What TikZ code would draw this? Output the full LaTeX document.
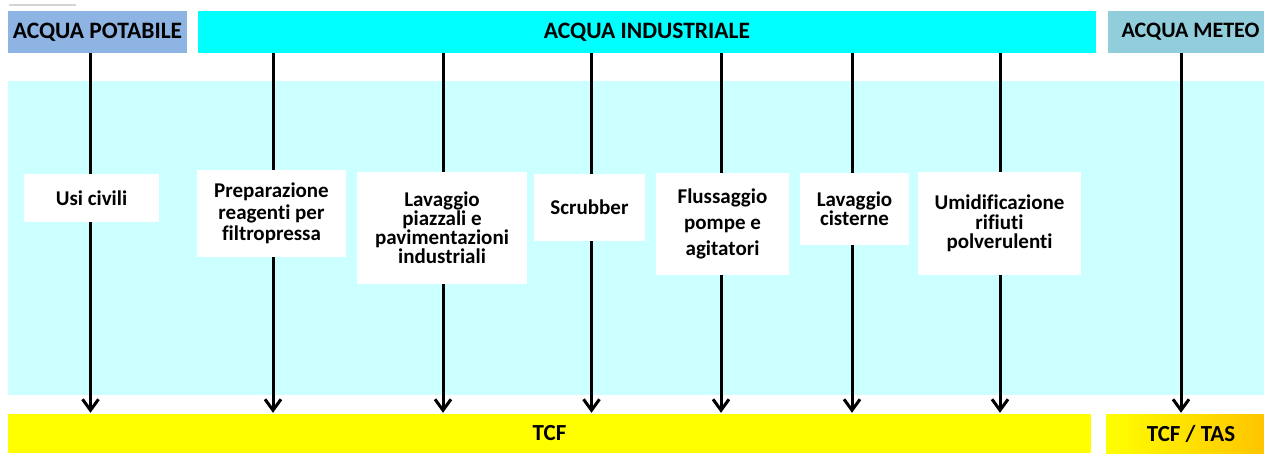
\documentclass[tikz,border=0pt]{standalone}
\usepackage{fontspec}
\setmainfont{Carlito}[Ligatures={NoCommon}]
\usetikzlibrary{arrows.meta,backgrounds}
\definecolor{potabile}{HTML}{8EB4E3}
\definecolor{industriale}{HTML}{00FFFF}
\definecolor{meteo}{HTML}{92CDDC}
\definecolor{lightcyan}{HTML}{CCFFFF}
\definecolor{tcfyellow}{HTML}{FFFF00}
\definecolor{tasorange}{HTML}{FFC000}
\definecolor{rulegray}{HTML}{D4D4D4}
\begin{document}
\begin{tikzpicture}[x=1pt,y=-1pt,
  hdr/.style={font=\bfseries\fontsize{23.5}{25}\selectfont, inner sep=0pt, minimum height=42pt},
  bottombar/.style={font=\bfseries\fontsize{23}{25}\selectfont, inner sep=0pt, minimum height=39pt},
  usebox/.style={fill=white, align=center, inner sep=0pt, font=\bfseries\fontsize{21}{#1}\selectfont},
  flow/.style={line width=3pt, shorten >=1pt, -{Straight Barb[length=11pt,width=16pt,line width=3pt]}}]
\clip (0,0) rectangle (1264,453);
\draw[rulegray, line width=2pt] (9,5) -- (76,5);
% headers
\node[hdr, fill=potabile, minimum width=179pt] (pot) at (97.5,32) {ACQUA POTABILE};
\node[hdr, fill=industriale, minimum width=898pt] (ind) at (647,32) {ACQUA INDUSTRIALE};
\node[hdr, fill=meteo, minimum width=165pt, font=\bfseries\fontsize{22}{25}\selectfont] (met) at (1190.5,32) {ACQUA METEO};
% bottom
\node[bottombar, fill=tcfyellow, minimum width=1083pt] (tcf) at (549.5,433.5) {TCF};
\node[bottombar, left color=tcfyellow, right color=tasorange, minimum width=170pt] (tas) at (1191,433.5) {TCF / TAS};
% boxes
\node[usebox=20, minimum width=135pt, minimum height=48pt] (usi) at (91.5,198) {Usi civili};
\node[usebox=21.5, minimum width=149pt, minimum height=87pt] (prep) at (271.5,213.5) {Preparazione\\reagenti per\\filtropressa};
\node[usebox=17.5, minimum width=170pt, minimum height=112pt] (piaz) at (442,228) {Lavaggio\\piazzali e\\pavimentazioni\\industriali};
\node[usebox=20, minimum width=111pt, minimum height=67pt] (scrub) at (589.5,207.5) {Scrubber};
\node[usebox=26, minimum width=133pt, minimum height=102pt] (fluss) at (722.5,224) {Flussaggio\\pompe e\\agitatori};
\node[usebox=18, minimum width=109pt, minimum height=72pt] (cist) at (854.5,209) {Lavaggio\\cisterne};
\node[usebox=19.5, minimum width=163pt, minimum height=103pt] (umid) at (999.5,223.5) {Umidificazione\\rifiuti\\polverulenti};
\coordinate (mx) at (1181,0);
\begin{scope}[on background layer]
  \fill[white] (0,0) rectangle (1264,453);
  \fill[lightcyan] (8,81) rectangle (1270,395);
\end{scope}
\begin{scope}[on background layer]
  \draw[flow] ([xshift=-1pt]pot.south -| usi) -- ([xshift=-1pt]tcf.north -| usi);
  \draw[flow] ([xshift=1.5pt]ind.south -| prep) -- ([xshift=1.5pt]tcf.north -| prep);
  \draw[flow] ([xshift=1pt]ind.south -| piaz) -- ([xshift=1pt]tcf.north -| piaz);
  \draw[flow] ([xshift=2pt]ind.south -| scrub) -- ([xshift=2pt]tcf.north -| scrub);
  \draw[flow] ([xshift=-1.5pt]ind.south -| fluss) -- ([xshift=-1.5pt]tcf.north -| fluss);
  \draw[flow] ([xshift=-2.5pt]ind.south -| cist) -- ([xshift=-2.5pt]tcf.north -| cist);
  \draw[flow] ([xshift=0.5pt]ind.south -| umid) -- ([xshift=0.5pt]tcf.north -| umid);
  \draw[flow] (met.south -| mx) -- (tas.north -| mx);
\end{scope}
\end{tikzpicture}
\end{document}
